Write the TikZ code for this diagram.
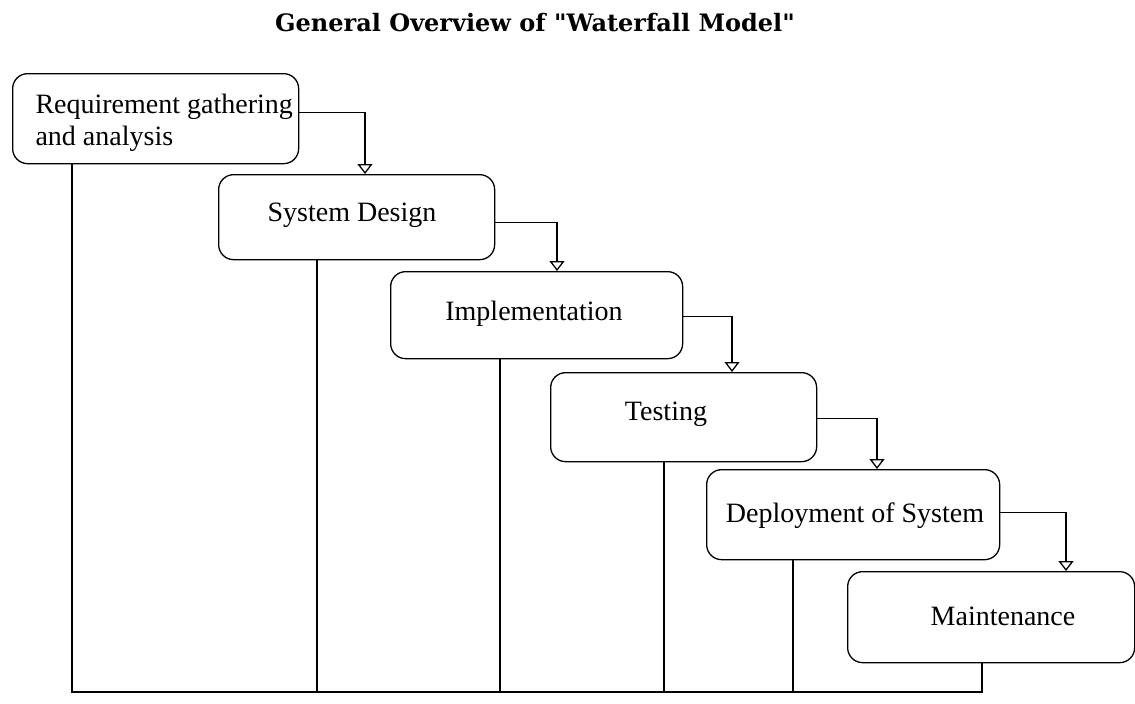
\documentclass[tikz,border=0pt]{standalone}
\usepackage{fontspec}
\setmainfont{Liberation Serif}
\newfontfamily\titlefont{DejaVu Serif}
\usetikzlibrary{arrows.meta,calc}
\begin{document}
\begin{tikzpicture}[x=1pt,y=-1pt,
  box/.style={draw, line width=1.3pt, rounded corners=15pt, anchor=north west, inner sep=0pt},
  lbl/.style={font=\fontsize{28}{32}\selectfont},
  conn/.style={line width=1.3pt, -{Triangle[open,length=10pt,width=15pt]}},
  ln/.style={line width=1.3pt}]
\useasboundingbox (0,0) rectangle (1135,704);
\node[font=\titlefont\bfseries\fontsize{24}{28}\selectfont] (title) at (535,23) {General Overview of \char34 Waterfall Model\char34};
\node[box, minimum width=286pt, minimum height=90pt] (r) at (12,73) {};
\node[lbl, align=left, anchor=west] (rt) at (32,123) {Requirement gathering\\and analysis};
\node[box, minimum width=276pt, minimum height=85pt] (s) at (218,174) {};
\node[lbl] (st) at (352,215) {System Design};
\node[box, minimum width=292pt, minimum height=87pt] (i) at (390,271) {};
\node[lbl] (it) at (534,314) {Implementation};
\node[box, minimum width=266pt, minimum height=89pt] (t) at (550,372) {};
\node[lbl] (tt) at (666,414) {Testing};
\node[box, minimum width=293pt, minimum height=90pt] (d) at (706,469) {};
\node[lbl] (dt) at (855,516) {Deployment of System};
\node[box, minimum width=287pt, minimum height=91pt] (m) at (847,571) {};
\node[lbl] (mt) at (1003,616) {Maintenance};
% connectors
\draw[conn] ([yshift=6pt]r.east) -| ([xshift=147pt]s.north west);
\draw[conn] ([yshift=-5pt]s.east) -| ([xshift=167pt]i.north west);
\draw[conn] ([yshift=-1pt]i.east) -| ([xshift=182pt]t.north west);
\draw[conn] ([yshift=-1pt]t.east) -| ([xshift=171pt]d.north west);
\draw[conn] ([yshift=2pt]d.east) -| ([xshift=219pt]m.north west);
% bottom lines
\coordinate (b1) at ([xshift=60pt]r.south west);
\coordinate (b2) at ([xshift=99pt]s.south west);
\coordinate (b3) at ([xshift=110pt]i.south west);
\coordinate (b4) at ([xshift=114pt]t.south west);
\coordinate (b5) at ([xshift=87pt]d.south west);
\coordinate (b6) at ([xshift=135pt]m.south west);
\coordinate (bus) at (0,692);
\draw[ln] (b1) -- (b1 |- bus) -- (b6 |- bus) -- (b6);
\foreach \c in {b2,b3,b4,b5} \draw[ln] (\c) -- (\c |- bus);
\end{tikzpicture}
\end{document}
